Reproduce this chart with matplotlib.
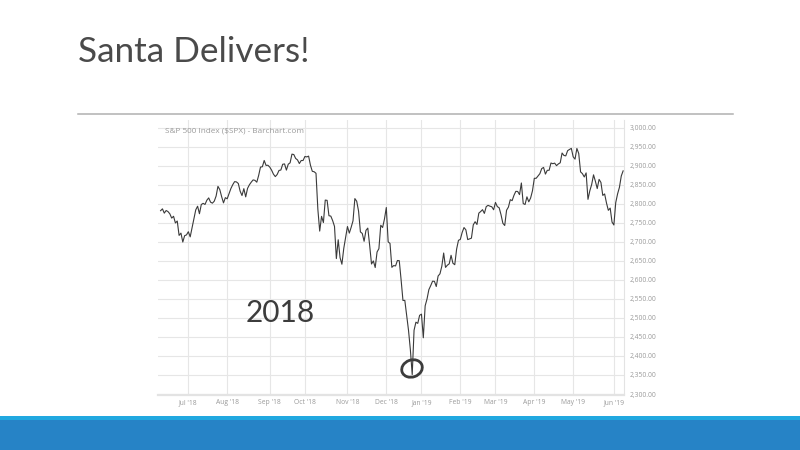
import matplotlib
matplotlib.use('Agg')
import matplotlib.pyplot as plt
from matplotlib.patches import Ellipse, Rectangle
import numpy as np

# S&P 500 daily closes (Jun 2018 - Jun 2019)
jun18 = [2782.00, 2786.85, 2775.63, 2782.49, 2779.66, 2773.75, 2762.59, 2767.32,
         2749.76, 2754.88, 2717.07, 2723.06, 2699.63, 2716.31, 2718.37]
jul18 = [2726.71, 2713.22, 2736.61, 2759.82, 2784.17, 2793.84, 2774.02, 2798.29,
         2801.31, 2798.43, 2809.55, 2815.62, 2804.49, 2801.83, 2806.98, 2820.40,
         2846.07, 2837.44, 2818.82, 2802.60, 2816.29]
aug18 = [2813.36, 2827.22, 2840.35, 2850.40, 2858.45, 2857.70, 2853.58, 2833.28,
         2821.93, 2839.96, 2818.37, 2840.69, 2850.13, 2857.05, 2862.96, 2861.82,
         2856.98, 2874.69, 2896.74, 2897.52, 2914.04, 2901.13, 2901.52]
sep18 = [2896.72, 2888.60, 2878.05, 2871.68, 2877.13, 2887.89, 2888.92, 2904.18,
         2904.98, 2888.80, 2904.31, 2907.95, 2930.75, 2929.67, 2919.37, 2915.56,
         2905.97, 2914.00, 2913.98]
oct18 = [2924.59, 2923.43, 2925.51, 2901.61, 2885.57, 2884.43, 2880.34, 2785.68,
         2728.37, 2767.13, 2750.79, 2809.92, 2809.21, 2768.78, 2767.78, 2755.88,
         2740.69, 2656.10, 2705.57, 2658.69, 2641.25, 2682.63, 2711.74]
nov18 = [2740.37, 2723.06, 2738.31, 2755.45, 2813.89, 2806.83, 2781.01, 2726.22,
         2722.18, 2701.58, 2730.20, 2736.27, 2690.73, 2641.89, 2649.93, 2632.56,
         2673.45, 2682.17, 2743.79, 2737.80, 2760.17]
dec18 = [2790.37, 2700.06, 2695.95, 2633.08, 2637.72, 2636.78, 2651.07, 2650.54,
         2599.95, 2545.94, 2546.16, 2506.96, 2467.42, 2416.62, 2351.10, 2467.70,
         2488.83, 2485.74, 2506.85]
jan19 = [2510.03, 2447.89, 2531.94, 2549.69, 2574.41, 2584.96, 2596.64, 2596.26,
         2582.61, 2610.30, 2616.10, 2635.96, 2670.71, 2632.90, 2638.70, 2642.33,
         2664.76, 2643.85, 2640.00, 2681.05, 2704.10]
feb19 = [2706.53, 2724.87, 2737.70, 2731.61, 2706.05, 2707.88, 2709.80, 2744.73,
         2753.03, 2745.73, 2775.60, 2779.76, 2784.70, 2774.88, 2792.67, 2796.11,
         2793.90, 2792.38, 2784.49]
mar19 = [2803.69, 2792.81, 2789.65, 2771.45, 2748.93, 2743.07, 2783.30, 2791.52,
         2810.92, 2808.48, 2822.48, 2832.94, 2832.57, 2824.23, 2854.88, 2800.71,
         2798.36, 2818.46, 2805.37, 2815.44, 2834.40]
apr19 = [2867.19, 2867.24, 2873.40, 2879.39, 2892.74, 2895.77, 2878.20, 2888.21,
         2888.32, 2907.41, 2905.58, 2907.06, 2900.45, 2905.03, 2907.97, 2933.68,
         2927.25, 2926.17, 2939.88, 2943.03, 2945.83]
may19 = [2923.73, 2917.52, 2945.64, 2932.47, 2884.05, 2879.42, 2870.72, 2881.40,
         2811.87, 2834.41, 2850.96, 2876.32, 2859.53, 2840.23, 2864.36, 2856.27,
         2822.24, 2826.06, 2802.39, 2783.02, 2788.86, 2752.06]
jun19 = [2744.45, 2803.27, 2826.15, 2843.49, 2873.34, 2886.73]

month_series = [jun18, jul18, aug18, sep18, oct18, nov18, dec18,
                jan19, feb19, mar19, apr19, may19, jun19]
tick_labels = ["Jul '18", "Aug '18", "Sep '18", "Oct '18", "Nov '18", "Dec '18",
               "Jan '19", "Feb '19", "Mar '19", "Apr '19", "May '19", "Jun '19"]
y_ticks = list(range(2300, 3001, 50))

title = "Santa Delivers!"
chart_source = "S&P 500 Index (\\$SPX) - Barchart.com"
note = "2018"

closes = np.concatenate([np.array(s) for s in month_series])
idx = np.arange(len(closes))
month_starts = np.cumsum([len(s) for s in month_series])[:-1]

fig = plt.figure(figsize=(8, 4.5), dpi=100)
fig.patch.set_facecolor('white')

W, H = 800, 450
L, R, T, B = 158, 623.5, 120, 394.5
ax = fig.add_axes([L / W, 1 - B / H, (R - L) / W, (B - T) / H])
ax.plot(idx, closes, color='#3a3a3a', lw=0.8, zorder=3)
ax.set_xlim(-1.4, 250.2)
ax.set_ylim(2298.7, 3020.5)
ax.yaxis.tick_right()
ax.set_yticks(y_ticks)
ax.set_yticklabels([f"{v:,.2f}" for v in y_ticks])
ax.set_xticks(month_starts)
ax.set_xticklabels(tick_labels)
ax.grid(True, color='#e6e6e6', lw=0.8, zorder=0)
ax.set_axisbelow(True)
ax.tick_params(axis='both', length=0, labelsize=4.9, labelcolor='#9a9a9a')
ax.tick_params(axis='y', pad=4.7)
ax.tick_params(axis='x', pad=3.6)
for lab in ax.get_xticklabels() + ax.get_yticklabels():
    lab.set_fontfamily('Open Sans')
for s in ['top', 'left']:
    ax.spines[s].set_visible(False)
ax.spines['right'].set_color('#e3e3e3')
ax.spines['right'].set_linewidth(0.8)
ax.spines['bottom'].set_color('#e3e3e3')
ax.spines['bottom'].set_linewidth(1.6)

# overlay in pixel coordinates
ov = fig.add_axes([0, 0, 1, 1])
ov.set_xlim(0, W)
ov.set_ylim(H, 0)
ov.axis('off')
ov.patch.set_alpha(0)

ov.text(78, 61.7, title, ha='left', va='baseline', fontsize=25.3,
        family='Lato', fontweight='normal', color='#4a4a4a')
ov.plot([78, 733], [114, 114], color='#b0b0b0', lw=1.1)
ov.text(165, 130.7, chart_source, ha='left', va='center', fontsize=5.9,
        family='Open Sans', color='#9a9a9a')
ov.text(246, 321.5, note, ha='left', va='baseline', fontsize=21.5,
        family='Lato', color='#3c3c3c')
ov.add_patch(Ellipse((412, 368.5), 21, 17, angle=-20, fill=False,
                     ec='#3c3c3c', lw=2.0, zorder=5))
ov.add_patch(Rectangle((0, 415.5), W, 5, color='#21a8e0', lw=0))
ov.add_patch(Rectangle((0, 420), W, 30, color='#2683c6', lw=0))

fig.savefig('out.png', dpi=100)
